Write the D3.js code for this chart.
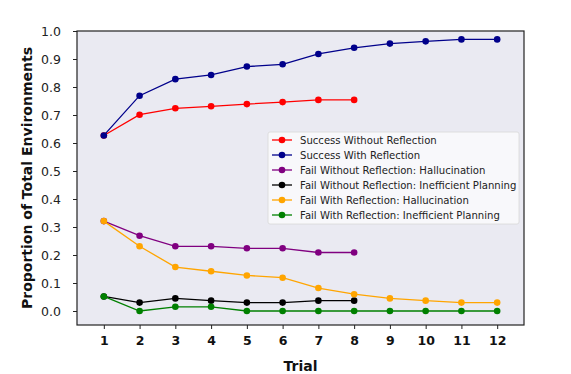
<!DOCTYPE html>
<html><head><meta charset="utf-8">
<script src="https://cdn.jsdelivr.net/npm/d3@7"></script>
<style>body{margin:0;background:#fff}svg{display:block}</style>
</head><body>
<svg id="c" width="571" height="374"></svg>
<script>
const trials = [1,2,3,4,5,6,7,8,9,10,11,12];
const yTicks = [0.0,0.1,0.2,0.3,0.4,0.5,0.6,0.7,0.8,0.9,1.0];
const seriesNames = [
  "Success Without Reflection",
  "Success With Reflection",
  "Fail Without Reflection: Hallucination",
  "Fail Without Reflection: Inefficient Planning",
  "Fail With Reflection: Hallucination",
  "Fail With Reflection: Inefficient Planning"
];
const seriesColors = ["#ff0000","#00008b","#800080","#000000","#ffa500","#008000"];
const successWithout = [0.627,0.701,0.724,0.731,0.739,0.746,0.754,0.754];
const successWith = [0.627,0.769,0.828,0.843,0.873,0.881,0.918,0.940,0.955,0.963,0.970,0.970];
const failWithoutHall = [0.321,0.269,0.231,0.231,0.224,0.224,0.209,0.209];
const failWithoutIneff = [0.052,0.030,0.045,0.037,0.030,0.030,0.037,0.037];
const failWithHall = [0.321,0.231,0.157,0.142,0.127,0.119,0.082,0.060,0.045,0.037,0.030,0.030];
const failWithIneff = [0.052,0.000,0.015,0.015,0.000,0.000,0.000,0.000,0.000,0.000,0.000,0.000];
const seriesValues = [successWithout, successWith, failWithoutHall, failWithoutIneff, failWithHall, failWithIneff];

const svg = d3.select("#c");
const L = 77, R = 524, T = 31, B = 325;
const x = d3.scaleLinear().domain([0.25, 12.75]).range([L, R]);
const y = d3.scaleLinear().domain([-0.05, 1.0]).range([B, T]);

svg.append("rect").attr("x", L).attr("y", T).attr("width", R-L).attr("height", B-T).attr("fill", "#eaeaf2");

const font = "DejaVu Sans, sans-serif";
const yAxis = svg.append("g").attr("transform", `translate(${L},0)`)
  .call(d3.axisLeft(y).tickValues(yTicks).tickFormat(d3.format(".1f")).tickSize(4).tickPadding(12));
yAxis.select(".domain").remove();
yAxis.selectAll("line").attr("stroke", "#222").attr("stroke-width", 1);
yAxis.selectAll("text").attr("font-family", font).attr("font-size", 12.5).attr("fill", "#222");

const xAxis = svg.append("g").attr("transform", `translate(0,${B})`)
  .call(d3.axisBottom(x).tickValues(trials).tickFormat(d3.format("d")).tickSize(4).tickPadding(7));
xAxis.select(".domain").remove();
xAxis.selectAll("line").attr("stroke", "#222");
xAxis.selectAll("text").attr("font-family", font).attr("font-size", 12.5).attr("font-weight", "bold").attr("fill", "#111");

svg.append("rect").attr("x", L).attr("y", T).attr("width", R-L).attr("height", B-T)
  .attr("fill", "none").attr("stroke", "#222").attr("stroke-width", 1.2);

const line = d3.line().x((d,i) => x(trials[i])).y(d => y(d));
seriesValues.forEach((vals, k) => {
  const g = svg.append("g");
  g.append("path").datum(vals).attr("d", line).attr("fill", "none")
    .attr("stroke", seriesColors[k]).attr("stroke-width", 1.3);
  g.selectAll("circle").data(vals).join("circle")
    .attr("cx", (d,i) => x(trials[i])).attr("cy", d => y(d)).attr("r", 3.3)
    .attr("fill", seriesColors[k]);
});

// legend
const lg = svg.append("g");
lg.append("rect").attr("x", 268).attr("y", 132).attr("width", 251).attr("height", 92).attr("rx", 2)
  .attr("fill", "#fafafc").attr("fill-opacity", 0.9).attr("stroke", "#d8d8d8").attr("stroke-width", 0.8);
seriesNames.forEach((n, k) => {
  const yy = 140 + k * 15;
  lg.append("line").attr("x1", 272).attr("x2", 292).attr("y1", yy).attr("y2", yy)
    .attr("stroke", seriesColors[k]).attr("stroke-width", 1.3);
  lg.append("circle").attr("cx", 282).attr("cy", yy).attr("r", 3.3).attr("fill", seriesColors[k]);
  lg.append("text").attr("x", 300).attr("y", yy + 3.6).attr("font-family", font).attr("font-size", 10.1)
    .attr("fill", "#222").text(n);
});

svg.append("text").attr("x", (L+R)/2).attr("y", 371).attr("text-anchor", "middle")
  .attr("font-family", font).attr("font-size", 14).attr("font-weight", "bold").attr("fill", "#111").text("Trial");
svg.append("text").attr("transform", `translate(32,${(T+B)/2}) rotate(-90)`).attr("text-anchor", "middle")
  .attr("font-family", font).attr("font-size", 14).attr("font-weight", "bold").attr("fill", "#111")
  .text("Proportion of Total Environments");
</script>
</body></html>
